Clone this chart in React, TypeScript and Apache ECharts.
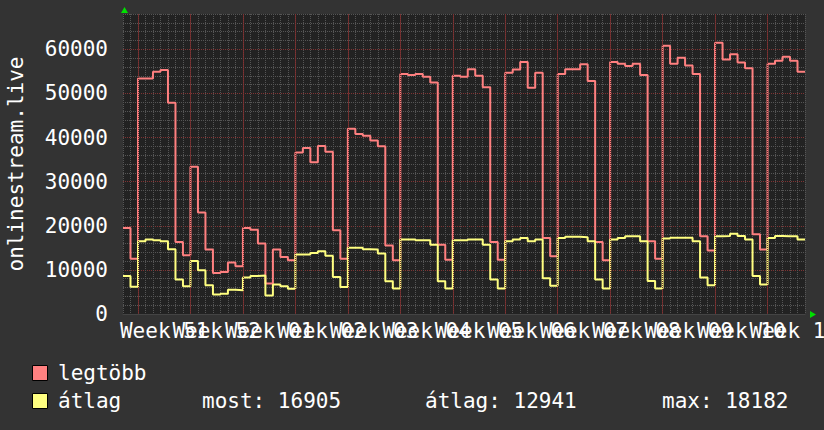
import React, { useEffect, useRef } from "react";
import * as echarts from "echarts";

// day index: 0 = Monday of Week 51; data starts on the Saturday before (-2)
const firstDay = -2;
const maxValues = [
  19500, 12500,
  53400, 53400, 54900, 55300, 47900, 16300, 13300,
  33400, 23000, 14600, 9300, 9500, 11700, 10800,
  19500, 19100, 16000, 6900, 14600, 12900, 12200,
  36600, 37600, 34400, 38100, 36800, 19000, 12500,
  42000, 40800, 40400, 39300, 38000, 15500, 12200,
  54400, 54200, 54400, 53800, 52500, 15700, 12300,
  54000, 53800, 55500, 54000, 51400, 16300, 12300,
  54700, 55400, 57100, 51300, 54700, 17200, 13100,
  54400, 55500, 55500, 56600, 52800, 16300, 12200,
  57100, 56700, 56200, 56700, 54200, 16500, 12500,
  60800, 56700, 58100, 56300, 54400, 17600, 14400,
  61500, 57700, 58900, 57000, 55700, 18100, 14600,
  56700, 57400, 58300, 57400, 54900,
];
const avgValues = [
  8600, 6200,
  16500, 16900, 16700, 16500, 14700, 7800, 6300,
  12000, 9900, 6500, 4400, 4600, 5500, 5400,
  8300, 8600, 8700, 4200, 6700, 6300, 5700,
  13500, 13500, 13800, 14200, 13200, 8400, 6100,
  15000, 15000, 14700, 14600, 13700, 7400, 5800,
  16900, 16900, 16700, 16700, 15700, 7400, 5800,
  16700, 16700, 16900, 16900, 15700, 7800, 5800,
  16500, 16900, 17200, 16500, 16900, 8100, 6400,
  17200, 17500, 17500, 17400, 16500, 7800, 5800,
  16900, 17200, 17600, 17600, 16500, 7500, 5800,
  17100, 17300, 17300, 17300, 16500, 8300, 6500,
  17600, 17700, 18200, 17700, 16900, 8600, 6700,
  17200, 17700, 17600, 17600, 16905,
];
const weekLabels = [
  "Week 51", "Week 52", "Week 01", "Week 02", "Week 03", "Week 04", "Week 05",
  "Week 06", "Week 07", "Week 08", "Week 09", "Week 10", "Week 11",
];
const seriesNames = ["legtöbb", "átlag"];
const seriesColors = ["#ff8080", "#ffff80"];
const statLabels = ["most: 16905", "átlag: 12941", "max: 18182"];
const axisTitle = "onlinestream.live";

const FONT = "'DejaVu Sans Mono', monospace";
const GRID_COLOR = "#555555";
const MAJOR_COLOR = "#7f3333";

function toSteps(values: number[]): [number, number][] {
  const pts: [number, number][] = values.map((v, i) => [firstDay + i, v]);
  pts.push([firstDay + values.length, values[values.length - 1]]);
  return pts;
}

export default function App() {
  const ref = useRef<HTMLDivElement>(null);
  useEffect(() => {
    if (!ref.current) return;
    const chart = echarts.init(ref.current, undefined, { renderer: "svg" });
    const xMin = firstDay;
    const xMax = firstDay + maxValues.length;
    const vColors: string[] = [];
    for (let i = 0; i < 7; i++) vColors.push(((xMin + i) % 7 + 7) % 7 === 0 ? MAJOR_COLOR : GRID_COLOR);
    const majorX = weekLabels.map((_, i) => i * 7);
    const txt = { color: "#ffffff", fontFamily: FONT, fontSize: 21 };
    const font = `21px ${FONT}`;
    const staticGraphic: any[] = [
      { type: "polygon", shape: { points: [[121, 13], [128, 13], [124.5, 7]] }, style: { fill: "#00e000" } },
      { type: "polygon", shape: { points: [[810, 311], [810, 318], [816, 314.5]] }, style: { fill: "#00e000" } },
      { type: "rect", shape: { x: 32.5, y: 365.5, width: 15, height: 15 }, style: { fill: seriesColors[0], stroke: "#000", lineWidth: 1 } },
      { type: "rect", shape: { x: 32.5, y: 393.5, width: 15, height: 15 }, style: { fill: seriesColors[1], stroke: "#000", lineWidth: 1 } },
      { type: "text", x: 58, y: 373, style: { text: seriesNames[0], fill: "#fff", font, verticalAlign: "middle" } },
      { type: "text", x: 58, y: 401, style: { text: seriesNames[1], fill: "#fff", font, verticalAlign: "middle" } },
      { type: "text", x: 202, y: 401, style: { text: statLabels[0], fill: "#fff", font, verticalAlign: "middle" } },
      { type: "text", x: 425, y: 401, style: { text: statLabels[1], fill: "#fff", font, verticalAlign: "middle" } },
      { type: "text", x: 662, y: 401, style: { text: statLabels[2], fill: "#fff", font, verticalAlign: "middle" } },
    ];
    const option: any = {
      animation: false,
      backgroundColor: "#333333",
      textStyle: { fontFamily: FONT },
      grid: {
        left: 123, top: 14, width: 682, height: 300,
        show: true, backgroundColor: "#222222", borderWidth: 0,
        outerBoundsMode: "none", containLabel: false,
      },
      xAxis: {
        type: "value", min: xMin, max: xMax, interval: 1,
        axisLine: { show: true, lineStyle: { color: "#444444", width: 1 } },
        axisTick: { show: false },
        axisLabel: { show: false },
        splitLine: {
          show: true,
          lineStyle: { color: vColors, type: [1, 1], width: 1 },
        },
      },
      yAxis: {
        type: "value", min: 0, max: 68000, interval: 2000,
        name: axisTitle, nameLocation: "middle", nameGap: 97,
        nameTextStyle: txt,
        axisLine: { show: false },
        axisTick: { show: false },
        splitLine: {
          show: true,
          lineStyle: {
            color: [MAJOR_COLOR, GRID_COLOR, GRID_COLOR, GRID_COLOR, GRID_COLOR],
            type: [1, 1], width: 1,
          },
        },
        axisLabel: {
          ...txt, margin: 15, showMaxLabel: false,
          formatter: (v: number) => (v % 10000 === 0 ? String(v) : ""),
        },
      },
      series: [
        {
          name: seriesNames[0], type: "line", step: "end", symbol: "none",
          data: toSteps(maxValues),
          lineStyle: { color: seriesColors[0], width: 2 },
          markLine: {
            silent: true, symbol: "none", label: { show: false },
            lineStyle: { color: "#6a2e2e", type: [1, 1], width: 1 },
            data: majorX.map((x) => ({ xAxis: x })),
          },
          z: 3,
        },
        {
          name: seriesNames[1], type: "line", step: "end", symbol: "none",
          data: toSteps(avgValues),
          lineStyle: { color: seriesColors[1], width: 2 },
          z: 4,
        },
      ],
      graphic: staticGraphic,
    };
    chart.setOption(option);
    // week labels centred mid-week, placed through the x axis scale
    const weekText = weekLabels.map((label, i) => {
      const [px, py] = chart.convertToPixel({ xAxisIndex: 0, yAxisIndex: 0 }, [i * 7 + 3.5, 0]) as number[];
      return {
        type: "text", x: px, y: py + 6,
        style: { text: label, fill: "#fff", font, align: "center", verticalAlign: "top" },
      };
    });
    chart.setOption({ graphic: [...staticGraphic, ...weekText] });
    return () => chart.dispose();
  }, []);
  return <div ref={ref} style={{ width: 824, height: 430, position: "absolute", left: 0, top: 0 }} />;
}
